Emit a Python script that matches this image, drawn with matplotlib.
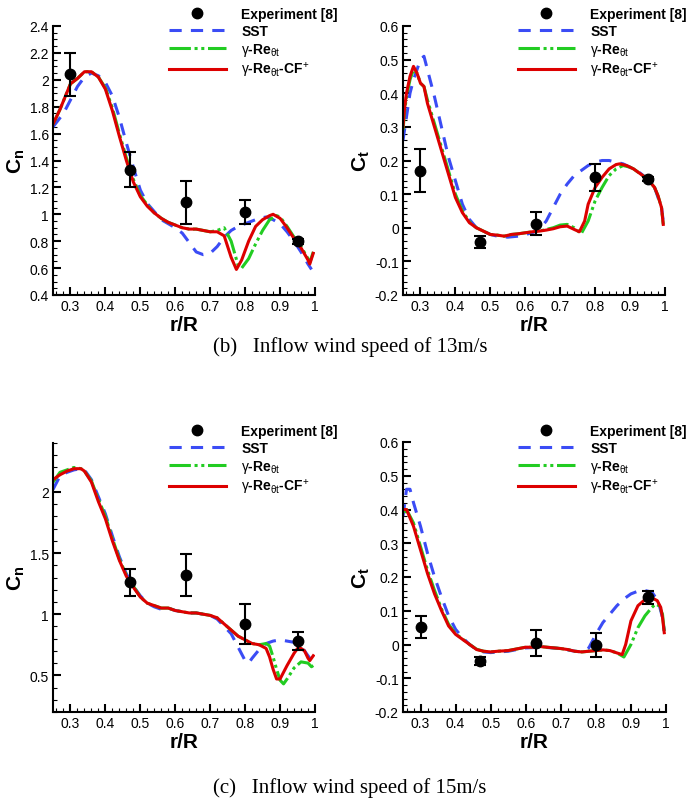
import numpy as np
import matplotlib
matplotlib.use("Agg")
import matplotlib.pyplot as plt
from matplotlib.ticker import MultipleLocator, FuncFormatter

plt.rcParams['font.family'] = ['Liberation Sans', 'DejaVu Sans']
plt.rcParams['mathtext.fontset'] = 'custom'
plt.rcParams['mathtext.rm'] = 'Liberation Sans'
plt.rcParams['mathtext.it'] = 'Liberation Sans'
plt.rcParams['mathtext.bf'] = 'Liberation Sans:bold'

# ---------------- experiment (r/R, value, error) ----------------
exp_r = [0.30, 0.47, 0.63, 0.80, 0.95]
exp_cn13 = [2.04, 1.33, 1.09, 1.02, 0.80]
exp_cn13_err = [0.16, 0.13, 0.16, 0.09, 0.02]
exp_ct13 = [0.170, -0.043, 0.012, 0.150, 0.145]
exp_ct13_err = [0.065, 0.017, 0.035, 0.040, 0.005]

exp_r15 = [0.47, 0.63, 0.80, 0.95]
exp_cn15 = [1.26, 1.32, 0.92, 0.78]
exp_cn15_err = [0.11, 0.175, 0.16, 0.075]
exp_r15t = [0.30, 0.47, 0.63, 0.80, 0.95]
exp_ct15 = [0.052, -0.050, 0.005, -0.002, 0.140]
exp_ct15_err = [0.033, 0.012, 0.038, 0.036, 0.020]

# ---------------- Cn, 13 m/s ----------------
sst_cn13_r = [0.25, 0.28, 0.30, 0.32, 0.34, 0.36, 0.38, 0.40, 0.42, 0.44, 0.46, 0.48, 0.50, 0.52,
              0.54, 0.56, 0.58, 0.60, 0.62, 0.64, 0.66, 0.68, 0.70, 0.72, 0.74, 0.76, 0.78, 0.80,
              0.82, 0.84, 0.86, 0.88, 0.90, 0.92, 0.94, 0.96, 0.98, 0.99]
sst_cn13 = [1.65, 1.75, 1.85, 1.95, 2.02, 2.05, 2.03, 1.98, 1.88, 1.72, 1.53, 1.35, 1.18, 1.08,
            1.02, 0.96, 0.93, 0.90, 0.86, 0.79, 0.72, 0.70, 0.71, 0.76, 0.83, 0.88, 0.91, 0.93,
            0.95, 0.97, 0.98, 0.96, 0.93, 0.87, 0.80, 0.72, 0.63, 0.59]

gre_cn13_r = [0.25, 0.27, 0.30, 0.32, 0.34, 0.36, 0.38, 0.40, 0.42, 0.44, 0.46, 0.48, 0.50, 0.52,
              0.54, 0.56, 0.58, 0.60, 0.62, 0.64, 0.66, 0.68, 0.70, 0.72, 0.74, 0.76, 0.78, 0.79,
              0.81, 0.83, 0.85, 0.87, 0.89, 0.90, 0.92, 0.94, 0.96, 0.98, 0.985, 0.995]
gre_cn13 = [1.67, 1.78, 1.97, 2.01, 2.06, 2.06, 2.02, 1.94, 1.79, 1.60, 1.42, 1.26, 1.14, 1.07,
            1.01, 0.97, 0.94, 0.92, 0.90, 0.89, 0.89, 0.88, 0.87, 0.88, 0.90, 0.80, 0.62, 0.60,
            0.67, 0.78, 0.88, 0.96, 0.99, 0.98, 0.91, 0.83, 0.76, 0.67, 0.64, 0.72]

cf_cn13_r = [0.25, 0.27, 0.30, 0.32, 0.34, 0.36, 0.38, 0.40, 0.42, 0.44, 0.46, 0.48, 0.50, 0.52,
             0.54, 0.56, 0.58, 0.60, 0.62, 0.64, 0.66, 0.68, 0.70, 0.72, 0.74, 0.76, 0.775, 0.79,
             0.81, 0.83, 0.85, 0.87, 0.88, 0.90, 0.92, 0.94, 0.96, 0.98, 0.985, 0.995]
cf_cn13 = [1.67, 1.78, 1.97, 2.01, 2.06, 2.06, 2.02, 1.93, 1.77, 1.58, 1.40, 1.24, 1.13, 1.06,
           1.01, 0.97, 0.94, 0.92, 0.90, 0.89, 0.89, 0.88, 0.87, 0.87, 0.84, 0.68, 0.59, 0.66,
           0.80, 0.91, 0.96, 0.99, 1.00, 0.97, 0.90, 0.82, 0.75, 0.66, 0.63, 0.71]

# ---------------- Ct, 13 m/s ----------------
sst_ct13_r = [0.25, 0.26, 0.27, 0.28, 0.29, 0.30, 0.31, 0.32, 0.34, 0.36, 0.38, 0.40, 0.42, 0.44,
              0.46, 0.48, 0.50, 0.52, 0.55, 0.58, 0.60, 0.62, 0.64, 0.66, 0.68, 0.70, 0.72, 0.74,
              0.76, 0.78, 0.80, 0.82, 0.84, 0.86, 0.88, 0.90, 0.92, 0.95, 0.97, 0.99, 0.995]
sst_ct13 = [0.26, 0.33, 0.40, 0.44, 0.47, 0.50, 0.51, 0.47, 0.39, 0.30, 0.21, 0.14, 0.07, 0.025,
            0.0, -0.01, -0.02, -0.025, -0.028, -0.025, -0.02, -0.015, -0.005, 0.02, 0.06, 0.10, 0.13, 0.155,
            0.17, 0.185, 0.195, 0.20, 0.20, 0.195, 0.19, 0.18, 0.17, 0.145, 0.12, 0.06, 0.02]

gre_ct13_r = [0.25, 0.255, 0.26, 0.27, 0.28, 0.29, 0.30, 0.31, 0.32, 0.34, 0.36, 0.38, 0.40, 0.42,
              0.44, 0.46, 0.48, 0.50, 0.52, 0.54, 0.56, 0.58, 0.60, 0.62, 0.64, 0.66, 0.68, 0.70,
              0.72, 0.74, 0.76, 0.78, 0.80, 0.82, 0.84, 0.86, 0.88, 0.90, 0.91, 0.93, 0.95, 0.97,
              0.98, 0.99, 0.995]
gre_ct13 = [0.29, 0.35, 0.39, 0.44, 0.47, 0.46, 0.43, 0.42, 0.38, 0.31, 0.24, 0.17, 0.10, 0.05,
            0.018, 0.0, -0.01, -0.02, -0.022, -0.025, -0.02, -0.018, -0.015, -0.012, -0.01, -0.005, 0.0, 0.008,
            0.01, 0.0, -0.018, 0.02, 0.08, 0.12, 0.155, 0.175, 0.185, 0.18, 0.175, 0.16, 0.145, 0.12,
            0.095, 0.06, 0.01]

cf_ct13_r = [0.25, 0.255, 0.26, 0.27, 0.28, 0.29, 0.30, 0.31, 0.32, 0.34, 0.36, 0.38, 0.40, 0.42,
             0.44, 0.46, 0.48, 0.50, 0.52, 0.54, 0.56, 0.58, 0.60, 0.62, 0.64, 0.66, 0.68, 0.70,
             0.72, 0.74, 0.755, 0.77, 0.78, 0.80, 0.82, 0.84, 0.86, 0.87, 0.89, 0.91, 0.93, 0.95,
             0.97, 0.98, 0.99, 0.995]
cf_ct13 = [0.30, 0.36, 0.40, 0.45, 0.48, 0.46, 0.43, 0.42, 0.37, 0.30, 0.23, 0.16, 0.09, 0.045,
           0.015, 0.0, -0.01, -0.02, -0.022, -0.025, -0.02, -0.018, -0.015, -0.012, -0.01, -0.007, -0.003, 0.003,
           0.005, -0.005, -0.012, 0.02, 0.07, 0.12, 0.15, 0.175, 0.188, 0.19, 0.185, 0.175, 0.16, 0.145,
           0.12, 0.095, 0.06, 0.01]

# ---------------- Cn, 15 m/s ----------------
sst_cn15_r = [0.25, 0.27, 0.29, 0.31, 0.33, 0.34, 0.36, 0.38, 0.40, 0.42, 0.44, 0.46, 0.48, 0.50,
              0.52, 0.54, 0.56, 0.58, 0.60, 0.62, 0.64, 0.66, 0.68, 0.70, 0.72, 0.74, 0.76, 0.78,
              0.80, 0.81, 0.82, 0.84, 0.86, 0.88, 0.90, 0.92, 0.94, 0.96, 0.98, 0.995]
sst_cn15 = [2.02, 2.13, 2.16, 2.18, 2.19, 2.18, 2.10, 1.96, 1.82, 1.64, 1.47, 1.33, 1.23, 1.15,
            1.09, 1.06, 1.04, 1.05, 1.03, 1.02, 1.01, 1.01, 1.00, 0.99, 0.96, 0.90, 0.84, 0.73,
            0.62, 0.60, 0.64, 0.71, 0.76, 0.78, 0.79, 0.78, 0.77, 0.74, 0.66, 0.60]

gre_cn15_r = [0.25, 0.27, 0.29, 0.31, 0.33, 0.34, 0.36, 0.38, 0.40, 0.42, 0.44, 0.46, 0.48, 0.50,
              0.52, 0.54, 0.56, 0.58, 0.60, 0.62, 0.64, 0.66, 0.68, 0.70, 0.72, 0.74, 0.76, 0.78,
              0.80, 0.82, 0.84, 0.86, 0.87, 0.88, 0.89, 0.90, 0.91, 0.92, 0.94, 0.96, 0.98, 0.99, 0.995]
gre_cn15 = [2.08, 2.16, 2.18, 2.20, 2.19, 2.17, 2.09, 1.94, 1.80, 1.62, 1.45, 1.32, 1.23, 1.14,
            1.09, 1.07, 1.05, 1.05, 1.03, 1.02, 1.01, 1.01, 1.00, 0.99, 0.97, 0.92, 0.87, 0.82,
            0.79, 0.76, 0.75, 0.76, 0.74, 0.65, 0.55, 0.46, 0.43, 0.47, 0.56, 0.61, 0.60, 0.57, 0.58]

cf_cn15_r = [0.25, 0.27, 0.29, 0.31, 0.33, 0.34, 0.36, 0.38, 0.40, 0.42, 0.44, 0.46, 0.48, 0.50,
             0.52, 0.54, 0.56, 0.58, 0.60, 0.62, 0.64, 0.66, 0.68, 0.70, 0.72, 0.74, 0.76, 0.78,
             0.80, 0.82, 0.84, 0.86, 0.87, 0.88, 0.89, 0.90, 0.92, 0.94, 0.95, 0.96, 0.97, 0.98,
             0.985, 0.995]
cf_cn15 = [2.10, 2.14, 2.17, 2.19, 2.19, 2.17, 2.08, 1.92, 1.78, 1.60, 1.44, 1.31, 1.22, 1.14,
           1.09, 1.07, 1.05, 1.05, 1.03, 1.02, 1.01, 1.01, 1.00, 0.99, 0.97, 0.92, 0.87, 0.82,
           0.79, 0.76, 0.75, 0.72, 0.65, 0.55, 0.47, 0.47, 0.58, 0.68, 0.72, 0.72, 0.70, 0.64,
           0.62, 0.66]

# ---------------- Ct, 15 m/s ----------------
sst_ct15_r = [0.25, 0.26, 0.27, 0.28, 0.30, 0.32, 0.34, 0.36, 0.38, 0.40, 0.42, 0.44, 0.46, 0.48,
              0.50, 0.55, 0.60, 0.65, 0.70, 0.74, 0.76, 0.78, 0.80, 0.82, 0.84, 0.86, 0.88, 0.90,
              0.92, 0.94, 0.96, 0.97, 0.98, 0.99, 0.995]
sst_ct15 = [0.38, 0.46, 0.46, 0.42, 0.35, 0.27, 0.20, 0.14, 0.085, 0.045, 0.02, 0.0, -0.015, -0.022,
            -0.024, -0.02, -0.01, -0.008, -0.012, -0.02, -0.022, -0.01, 0.03, 0.065, 0.09, 0.115, 0.135, 0.15,
            0.158, 0.16, 0.155, 0.14, 0.12, 0.08, 0.04]

gre_ct15_r = [0.255, 0.26, 0.28, 0.30, 0.32, 0.34, 0.36, 0.38, 0.40, 0.42, 0.44, 0.46, 0.48, 0.50,
              0.52, 0.55, 0.58, 0.60, 0.62, 0.64, 0.66, 0.68, 0.70, 0.72, 0.74, 0.76, 0.78, 0.80,
              0.82, 0.84, 0.86, 0.88, 0.90, 0.92, 0.94, 0.96, 0.97, 0.98, 0.99, 0.995]
gre_ct15 = [0.39, 0.40, 0.36, 0.29, 0.22, 0.16, 0.105, 0.06, 0.032, 0.016, 0.0, -0.014, -0.02, -0.022,
            -0.02, -0.018, -0.012, -0.008, -0.008, -0.006, -0.008, -0.01, -0.012, -0.015, -0.02, -0.022, -0.02, -0.018,
            -0.016, -0.018, -0.025, -0.037, 0.0, 0.05, 0.085, 0.11, 0.12, 0.115, 0.09, 0.04]

cf_ct15_r = [0.255, 0.26, 0.28, 0.30, 0.32, 0.34, 0.36, 0.38, 0.40, 0.42, 0.44, 0.46, 0.48, 0.50,
             0.52, 0.55, 0.58, 0.60, 0.62, 0.64, 0.66, 0.68, 0.70, 0.72, 0.74, 0.76, 0.78, 0.80,
             0.82, 0.84, 0.86, 0.875, 0.885, 0.90, 0.92, 0.94, 0.96, 0.975, 0.985, 0.99, 0.995]
cf_ct15 = [0.40, 0.40, 0.35, 0.28, 0.21, 0.15, 0.10, 0.055, 0.03, 0.015, 0.0, -0.015, -0.02, -0.022,
           -0.02, -0.018, -0.012, -0.008, -0.008, -0.006, -0.008, -0.01, -0.012, -0.015, -0.02, -0.022, -0.02, -0.018,
           -0.016, -0.018, -0.025, -0.03, 0.0, 0.07, 0.115, 0.133, 0.138, 0.13, 0.11, 0.08, 0.035]

labels = ['Experiment [8]', 'SST', r'$\gamma$-$\mathbf{Re}_{\theta t}$',
          r'$\gamma$-$\mathbf{Re}_{\theta t}$-$\mathbf{CF}^{+}$']

W, H = 689, 804
fig = plt.figure(figsize=(W / 100, H / 100), dpi=100)


def px_axes(l, t, r, b):
    return fig.add_axes([l / W, 1 - b / H, (r - l) / W, (b - t) / H])


def fmt(v, pos):
    return '%g' % round(v, 3)


def panel(ax, er, ev, ee, sr, sv, gr, gv, cr, cv, ylim, ymaj, ymin, ylab, leg_xy):
    l1, = ax.plot(sr, sv, color='#3b4cf5', lw=2.2, dashes=(4, 3))
    l2, = ax.plot(gr, gv, color='#22cc22', lw=2.2, dashes=(7, 1.2, 1, 1.2, 1, 1.2))
    l3, = ax.plot(cr, cv, color='#dd0000', lw=2.2)
    ax.errorbar(er, ev, yerr=ee, fmt='none', ecolor='black', elinewidth=1.5, capsize=4, capthick=1.5)
    l0, = ax.plot(er, ev, 'o', color='black', ms=7.5, ls='none')
    ax.set_xlim(0.25, 1.0)
    ax.set_ylim(*ylim)
    ax.xaxis.set_major_locator(MultipleLocator(0.1))
    ax.xaxis.set_minor_locator(MultipleLocator(0.02))
    ax.yaxis.set_major_locator(MultipleLocator(ymaj))
    ax.yaxis.set_minor_locator(MultipleLocator(ymin))
    ax.xaxis.set_major_formatter(FuncFormatter(fmt))
    ax.yaxis.set_major_formatter(FuncFormatter(fmt))
    for s in ['top', 'right']:
        ax.spines[s].set_visible(False)
    for s in ['left', 'bottom']:
        ax.spines[s].set_linewidth(1.5)
    ax.tick_params(which='major', direction='in', length=6, width=1.5, labelsize=10, pad=3)
    ax.tick_params(which='minor', direction='in', length=3, width=0.8)
    ax.set_xlabel('r/R', fontsize=15, fontweight='bold', labelpad=1)
    ax.set_ylabel(ylab, fontsize=15, fontweight='bold', labelpad=2)
    fig.legend([l0, l1, l2, l3], labels, loc='upper left',
               bbox_to_anchor=(leg_xy[0] / W, 1 - leg_xy[1] / H), frameon=False,
               prop={'weight': 'bold', 'size': 10}, handlelength=4.1, handletextpad=1.1,
               labelspacing=0.2, borderaxespad=0, borderpad=0)


ax1 = px_axes(53, 27, 315, 296)
panel(ax1, exp_r, exp_cn13, exp_cn13_err, sst_cn13_r, sst_cn13, gre_cn13_r, gre_cn13,
      cf_cn13_r, cf_cn13, (0.4, 2.4), 0.2, 0.05, r'$\mathbf{C_n}$', (169, 8))
ax2 = px_axes(403, 27, 665, 296)
panel(ax2, exp_r, exp_ct13, exp_ct13_err, sst_ct13_r, sst_ct13, gre_ct13_r, gre_ct13,
      cf_ct13_r, cf_ct13, (-0.2, 0.6), 0.1, 0.02, r'$\mathbf{C_t}$', (518, 8))
ax3 = px_axes(53, 444, 315, 713)
panel(ax3, exp_r15, exp_cn15, exp_cn15_err, sst_cn15_r, sst_cn15, gre_cn15_r, gre_cn15,
      cf_cn15_r, cf_cn15, (0.2, 2.4), 0.5, 0.1, r'$\mathbf{C_n}$', (169, 425))
ax4 = px_axes(403, 443, 666, 713)
panel(ax4, exp_r15t, exp_ct15, exp_ct15_err, sst_ct15_r, sst_ct15, gre_ct15_r, gre_ct15,
      cf_ct15_r, cf_ct15, (-0.2, 0.6), 0.1, 0.02, r'$\mathbf{C_t}$', (518, 425))

fig.text(350 / W, 1 - 347 / H, '(b)   Inflow wind speed of 13m/s', family='Liberation Serif',
         fontsize=15, ha='center', va='center')
fig.text(350 / W, 1 - 788 / H, '(c)   Inflow wind speed of 15m/s', family='Liberation Serif',
         fontsize=15, ha='center', va='center')

fig.savefig('out.png', dpi=100)
